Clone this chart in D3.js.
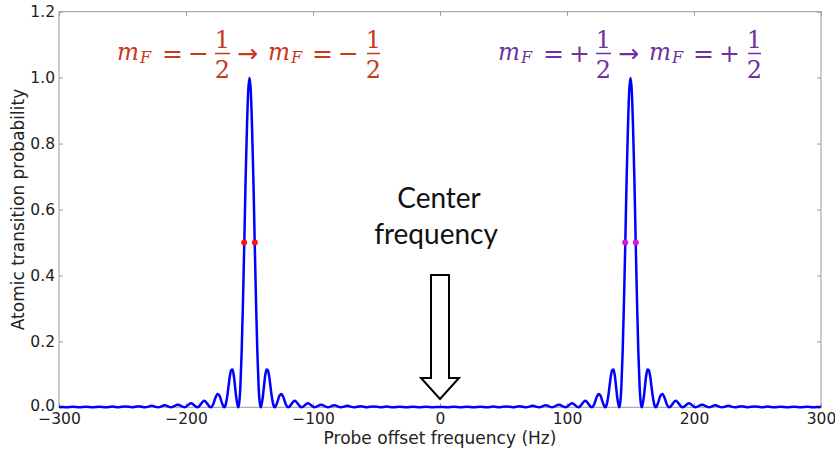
<!DOCTYPE html>
<html><head><meta charset="utf-8">
<script src="https://cdn.jsdelivr.net/npm/d3@7"></script>
<style>body{margin:0;background:#fff}svg{display:block}</style>
</head><body>
<svg id="c" width="835" height="453"></svg>
<script>
// ---- data ----
const peakCenters = [-150, 150];
// lineshape around each peak: detuning from peak centre (Hz) and probability
const lineOffsets = [0, 1, 2, 3.1, 4.1, 5.15, 6.2, 7.2, 8.25, 8.9, 10.3, 12.4, 13.4, 14.4, 15.5, 16.5, 17.5, 18.5, 19.9, 21.6, 23.7, 25.2, 26.8, 28.8, 30.5, 35.6, 40.9, 46.0, 51.2, 56.4, 61.6, 66.8, 71.9, 77.0, 82.2, 87.4, 92.6, 97.7, 102.9, 108.0, 113.2, 118.3, 123.5, 128.7, 133.8, 139.0, 144.1, 149.3, 150];
const lineProb = [1.0, 0.961, 0.850, 0.686, 0.499, 0.317, 0.165, 0.061, 0.009, 0, 0.026, 0.097, 0.115, 0.113, 0.094, 0.064, 0.034, 0.012, 0, 0.012, 0.036, 0.040, 0.029, 0.007, 0, 0.020, 0, 0.012, 0, 0.008, 0, 0.006, 0, 0.0044, 0, 0.0035, 0, 0.0028, 0, 0.0023, 0, 0.0019, 0, 0.0016, 0, 0.0014, 0, 0.0012, 0.0011];
const halfMaxFreqs = [[-154.2, -145.8], [145.8, 154.2]];
const halfMaxLevel = 0.5;
const halfMaxColors = ["#ff1010", "#e010e0"];
const xTicks = [-300, -200, -100, 0, 100, 200, 300];
const yTicks = [0, 0.2, 0.4, 0.6, 0.8, 1.0, 1.2];
const xLabel = "Probe offset frequency (Hz)";
const yLabel = "Atomic transition probability";
const annotSigns = ["−", "+"];
const annotColors = ["#c8381c", "#7030a0"];
const centerText = ["Center", "frequency"];

// ---- layout ----
const svg = d3.select("#c");
const L = 59, R = 821, T = 11.7, B = 407.3;
const x = d3.scaleLinear().domain([-300, 300]).range([L, R]);
const y = d3.scaleLinear().domain([0, 1.2]).range([B, T]);
const tickFont = "'DejaVu Sans', sans-serif";

// build curve points
let pts = [];
peakCenters.forEach(c => {
  lineOffsets.forEach((o, i) => {
    const p = lineProb[i];
    [c - o, c + o].forEach(f => {
      if ((c < 0 && f <= 0) || (c > 0 && f >= 0)) pts.push([f, p]);
    });
  });
});
pts.sort((a, b) => a[0] - b[0]);
pts = pts.filter((d, i) => i === 0 || d[0] !== pts[i - 1][0]);

// frame
svg.append("rect").attr("x", L).attr("y", T).attr("width", R - L).attr("height", B - T)
  .attr("fill", "none").attr("stroke", "#9a9a9a").attr("stroke-width", 1);

function styleAxis(g, labels) {
  g.select(".domain").remove();
  g.selectAll(".tick line").attr("stroke", "#9a9a9a");
  g.selectAll("text").attr("fill", "#222").style("font-family", tickFont).style("font-size", "15.5px");
  if (!labels) g.selectAll("text").remove();
}
svg.append("g").attr("transform", `translate(0,${B})`)
  .call(d3.axisBottom(x).tickValues(xTicks).tickSize(-4).tickSizeOuter(0).tickPadding(5.5))
  .call(g => styleAxis(g, true));
svg.append("g").attr("transform", `translate(0,${T})`)
  .call(d3.axisTop(x).tickValues(xTicks).tickSize(-4).tickSizeOuter(0))
  .call(g => styleAxis(g, false));
const yAxisG = svg.append("g").attr("transform", `translate(${L},0)`)
  .call(d3.axisLeft(y).tickValues(yTicks).tickFormat(d3.format(".1f")).tickSize(-4).tickSizeOuter(0).tickPadding(4))
  .call(g => styleAxis(g, true));
// nudge the bottom y label slightly up so it doesn't collide with the x label
yAxisG.selectAll(".tick text").filter(d => d === 0).attr("y", -1.5);
svg.append("g").attr("transform", `translate(${R},0)`)
  .call(d3.axisRight(y).tickValues(yTicks).tickSize(-4).tickSizeOuter(0))
  .call(g => styleAxis(g, false));

// axis labels
svg.append("text").attr("x", (L + R) / 2).attr("y", 444).attr("text-anchor", "middle")
  .style("font-family", tickFont).style("font-size", "17px").attr("fill", "#222").text(xLabel);
svg.append("text").attr("transform", `translate(24,${(T + B) / 2}) rotate(-90)`).attr("text-anchor", "middle")
  .style("font-family", tickFont).style("font-size", "17px").attr("fill", "#222").text(yLabel);

// curve
svg.append("path").datum(pts)
  .attr("d", d3.line().x(d => x(d[0])).y(d => y(d[1])).curve(d3.curveMonotoneX))
  .attr("fill", "none").attr("stroke", "#0000ff").attr("stroke-width", 2.5).attr("stroke-linejoin", "round");

// half-max dots
halfMaxFreqs.forEach((fs, i) => {
  svg.selectAll(null).data(fs).enter().append("circle")
    .attr("cx", d => x(d)).attr("cy", y(halfMaxLevel)).attr("r", 3)
    .attr("fill", halfMaxColors[i]);
});

// centre frequency annotation
const cx0 = x(0);
svg.append("text").attr("x", cx0 - 1).attr("y", 208).attr("text-anchor", "middle")
  .style("font-family", "Lato, sans-serif").style("font-size", "28px").attr("fill", "#111").text(centerText[0]);
svg.append("text").attr("x", cx0 - 4).attr("y", 244).attr("text-anchor", "middle")
  .style("font-family", "Lato, sans-serif").style("font-size", "28px").attr("fill", "#111").text(centerText[1]);
const arrowPts = [[-9, 275], [9, 275], [9, 378], [19, 378], [0, 399], [-19, 378], [-9, 378]];
svg.append("path").attr("d", "M" + arrowPts.map(p => [cx0 + p[0], p[1]].join(",")).join("L") + "Z")
  .attr("fill", "#fff").attr("stroke", "#000").attr("stroke-width", 2).attr("stroke-linejoin", "miter");

// transition labels
const serif = "'DejaVu Serif', serif";
const starts = [117, 498];
annotSigns.forEach((sign, k) => {
  const g = svg.append("g").attr("transform", `translate(${starts[k]},0)`).attr("fill", annotColors[k]);
  const col = annotColors[k];
  const toks = [
    {t: "m", k: "var", a: 0, b: 22}, {t: "F", k: "sub", a: 23, b: 34},
    {t: "=", k: "op", a: 46, b: 65}, {t: sign, k: "op", a: 73, b: 90},
    {k: "frac", a: 98, b: 113}, {t: "→", k: "arr", a: 120, b: 141},
    {t: "m", k: "var", a: 151, b: 173}, {t: "F", k: "sub", a: 174, b: 185},
    {t: "=", k: "op", a: 196, b: 215}, {t: sign, k: "op", a: 223, b: 240},
    {k: "frac", a: 250, b: 263}
  ];
  toks.forEach(tk => {
    const mid = (tk.a + tk.b) / 2;
    if (tk.k === "var") {
      g.append("text").attr("x", tk.a).attr("y", 60).attr("textLength", tk.b - tk.a).attr("lengthAdjust", "spacingAndGlyphs")
        .style("font-family", serif).style("font-style", "italic").style("font-size", "25px").text(tk.t);
    } else if (tk.k === "sub") {
      g.append("text").attr("x", tk.a).attr("y", 63)
        .style("font-family", serif).style("font-style", "italic").style("font-size", "16px").text(tk.t);
    } else if (tk.k === "op") {
      g.append("text").attr("x", mid).attr("y", 62).attr("text-anchor", "middle")
        .style("font-family", serif).style("font-size", "25px").text(tk.t);
    } else if (tk.k === "arr") {
      g.append("text").attr("x", mid).attr("y", 62).attr("text-anchor", "middle")
        .style("font-family", "'DejaVu Sans', sans-serif").style("font-size", "25px").text(tk.t);
    } else if (tk.k === "frac") {
      g.append("text").attr("x", mid).attr("y", 48).attr("text-anchor", "middle")
        .style("font-family", serif).style("font-size", "24px").text("1");
      g.append("text").attr("x", mid).attr("y", 78).attr("text-anchor", "middle")
        .style("font-family", serif).style("font-size", "24px").text("2");
      g.append("line").attr("x1", tk.a).attr("x2", tk.b).attr("y1", 53.5).attr("y2", 53.5)
        .attr("stroke", col).attr("stroke-width", 1.5);
    }
  });
});
</script>
</body></html>
